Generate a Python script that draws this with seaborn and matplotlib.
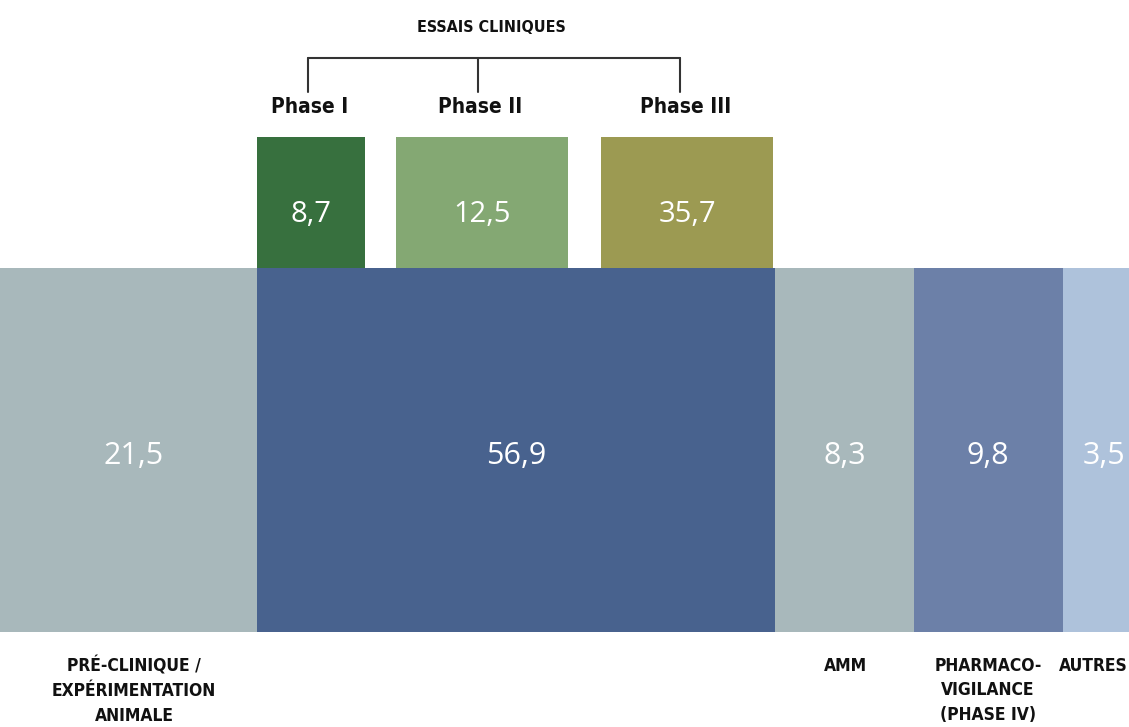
import matplotlib
matplotlib.use("Agg")
import matplotlib.pyplot as plt
import seaborn as sns
from matplotlib import font_manager as fm

# ---- data ----
stages = ["PRÉ-CLINIQUE /\nEXPÉRIMENTATION\nANIMALE", "", "AMM",
          "PHARMACO-\nVIGILANCE\n(PHASE IV)", "AUTRES"]
stage_values = [21.5, 56.9, 8.3, 9.8, 3.5]
phases = ["Phase I", "Phase II", "Phase III"]
phase_values = [8.7, 12.5, 35.7]
group_title = "ESSAIS CLINIQUES"

# ---- layout (pixel space) ----
stage_left = [0, 257, 775, 914, 1063]
stage_width = [257, 518, 139, 149, 80]
stage_colors = ["#A8B8BB", "#48628E", "#A8B8BB", "#6C80A8", "#AEC2DB"]
stage_label_x = [134, 516, 845, 988, 1104]
stage_text_x = [134, 516, 845, 988, 1128]
stage_text_ha = ["center", "center", "center", "center", "right"]
phase_left = [257, 396, 601]
phase_width = [108, 172, 172]
phase_colors = ["#37703E", "#84A873", "#9C9A52"]

sns.set_theme(style="white")
names = {f.name for f in fm.fontManager.ttflist}
numfont = "Open Sans" if "Open Sans" in names else "DejaVu Sans"
cond = dict(family="DejaVu Sans", fontstretch="condensed", fontweight="bold")

fig = plt.figure(figsize=(11.29, 7.27), dpi=100)
ax = fig.add_axes([0, 0, 1, 1])
ax.set_xlim(0, 1129)
ax.set_ylim(727, 0)
ax.axis("off")

# bottom strip
ax.bar(stage_left, [364] * len(stage_values), bottom=268, width=stage_width,
       align="edge", color=stage_colors, linewidth=0)
for v, lx, tx, ha, lab in zip(stage_values, stage_label_x, stage_text_x,
                              stage_text_ha, stages):
    ax.text(lx, 456, f"{v:.1f}".replace(".", ","), ha="center", va="center",
            color="white", fontsize=22, family=numfont)
    if lab:
        ax.text(tx, 657, lab, ha=ha, va="top", fontsize=12.5,
                color="#111111", linespacing=1.45, multialignment="center", **cond)

# top boxes
ax.bar(phase_left, [131] * len(phase_values), bottom=137, width=phase_width,
       align="edge", color=phase_colors, linewidth=0)
phase_cx = [x + w / 2 for x, w in zip(phase_left, phase_width)]
phase_label_x = [310, 480, 686]
for cx, lx, v, p in zip(phase_cx, phase_label_x, phase_values, phases):
    ax.text(cx, 215, f"{v:.1f}".replace(".", ","), ha="center", va="center",
            color="white", fontsize=21, family=numfont)
    ax.text(lx, 107, p, ha="center", va="center", fontsize=15,
            color="#111111", **cond)

# bracket
bx = [308, 478, 680]
ax.plot([bx[0], bx[2]], [58, 58], color="#333333", lw=1.5)
for x in bx:
    ax.plot([x, x], [58, 92], color="#333333", lw=1.5)
ax.text(491, 27, group_title, ha="center", va="center", fontsize=11.5,
        color="#111111", **cond)

fig.savefig("out.png", dpi=100)
